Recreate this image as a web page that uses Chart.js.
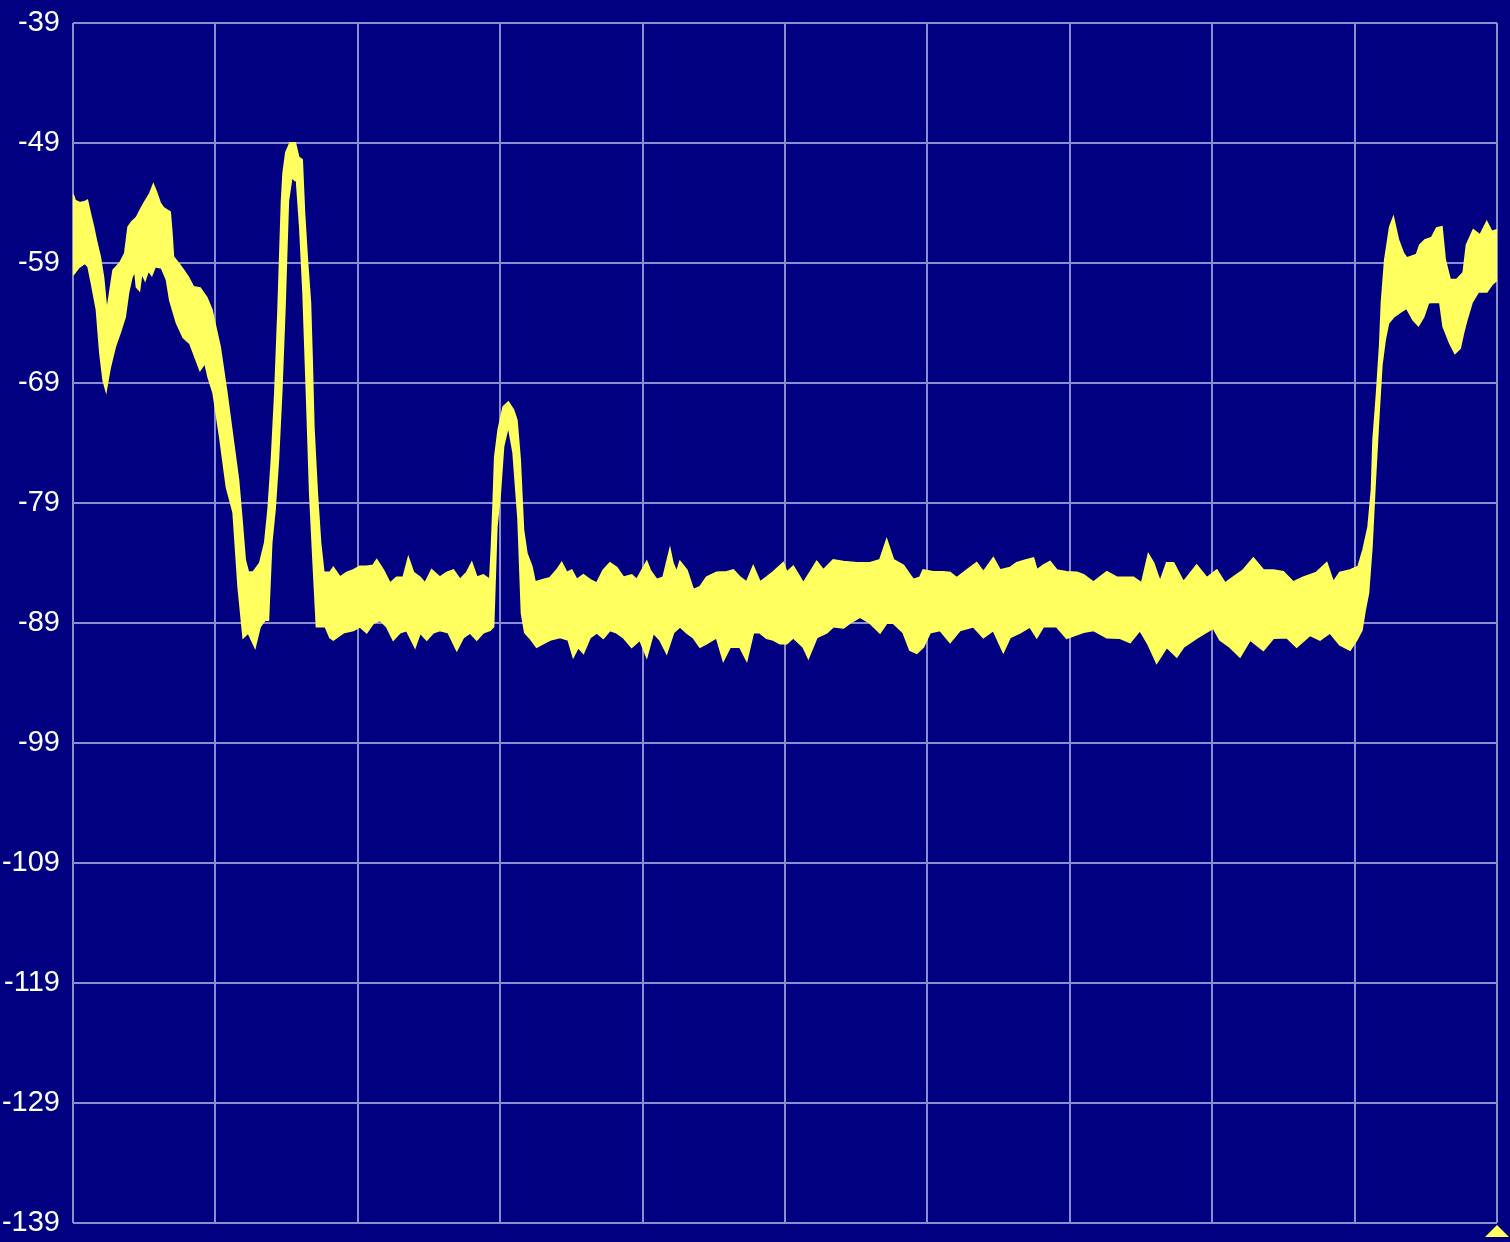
<!DOCTYPE html>
<html>
<head>
<meta charset="utf-8">
<script src="https://cdn.jsdelivr.net/npm/chart.js@4"></script>
<style>
  html, body { margin: 0; padding: 0; background: #000080; }
  #wrap { width: 1510px; height: 1242px; position: relative; }
</style>
</head>
<body>
<div id="wrap"><canvas id="c" width="1510" height="1242"></canvas></div>
<script>
// Level axis ticks (dBm)
const yTicks = [-139, -129, -119, -109, -99, -89, -79, -69, -59, -49, -39];
// Frequency axis grid (bins 0..1000, 10 divisions, unlabeled)
const xGrid = [0, 100, 200, 300, 400, 500, 600, 700, 800, 900, 1000];

// Upper envelope of the trace (max hold)
const upperX = [0,1.4,4.9,8.4,10.0,11.9,14.3,16.6,19.0,21.3,23.7,28.3,33.0,36.5,38.8,41.2,44.7,48.2,50.6,54.1,56.4,58.8,61.1,63.4,68.1,69.3,70.4,73.9,77.5,81.0,84.5,89.2,93.9,97.4,103.2,107.9,112.6,116.1,118.5,120.8,123.1,126.6,131.3,134.8,137.1,139.5,141.9,144.2,145.4,146.6,147.7,149.6,152.5,156.0,158.4,160.8,162.4,164.3,166.6,167.8,169.0,171.4,173.7,176.0,180.5,182.8,187.5,192.2,196.8,201.5,206.2,210.9,213.3,217.9,222.6,227.3,232.0,235.5,239.0,243.7,247.2,251.9,257.7,262.4,267.1,271.8,276.5,280.0,283.5,288.1,292.8,294.0,295.2,296.3,298.7,302.2,305.7,309.2,311.6,313.9,316.2,318.6,322.1,324.4,330.3,335.0,339.7,343.2,346.7,350.2,353.7,358.4,363.1,367.8,372.4,377.1,381.8,386.5,392.3,395.9,402.9,405.2,409.9,414.5,419.2,421.1,423.9,426.3,431.0,435.6,440.3,445.0,452.0,459.1,463.7,468.4,473.1,477.7,482.4,487.1,491.8,498.8,501.2,505.8,510.5,512.9,517.6,522.3,526.9,533.9,541.0,550.4,559.7,566.7,571.4,576.1,583.1,590.1,594.8,597.1,604.1,611.2,615.9,620.6,627.6,634.6,639.3,646.3,651.0,658.0,662.7,669.7,674.4,676.8,681.4,686.1,690.8,697.8,704.9,709.6,716.6,726.0,733.0,744.7,750.5,755.2,758.7,763.4,768.1,772.8,779.8,789.1,796.2,803.2,809.0,814.8,821.8,828.9,835.9,842.9,849.9,856.9,863.9,873.3,880.4,885.0,889.7,896.8,902.6,906.1,909.6,912.0,913.1,915.5,917.8,919.0,921.3,924.8,927.2,930.7,934.2,936.6,943.6,945.9,949.4,954.2,957.7,961.2,963.5,967.0,971.7,976.4,978.7,983.4,988.1,992.8,996.3,1000];
const upperY = [-53.3,-53.8,-54,-53.9,-53.8,-54.8,-56,-57.3,-58.5,-60.2,-63.2,-59.6,-59,-58.2,-56,-55.6,-55.2,-54.4,-53.9,-53.2,-52.5,-53.2,-54,-54.4,-54.75,-56.5,-58.5,-59,-59.6,-60.2,-61,-61.1,-61.9,-62.9,-66,-69.8,-74,-77.1,-80.4,-83.75,-84.8,-84.75,-84,-82.3,-79.6,-75.4,-69.8,-62.7,-58.2,-53.8,-51.5,-49.8,-49,-49,-50.2,-50.4,-54.8,-58.5,-62.3,-67.1,-72.7,-78.2,-82.3,-84.8,-84.8,-84.4,-85.2,-84.8,-84.6,-84.3,-84.3,-84.2,-83.75,-84.6,-85.7,-85.2,-85.2,-83.6,-84.8,-85.2,-85.7,-84.6,-85.2,-84.8,-84.6,-85.4,-84.8,-84,-85.2,-85,-85.4,-82.7,-79,-75.2,-72.9,-71,-70.6,-71.25,-72.1,-75.4,-81.25,-83.2,-84.3,-85.6,-85.4,-85.25,-84.6,-84,-84.8,-84.6,-85.4,-85,-85.4,-85.7,-84.6,-84,-84.4,-85.2,-85,-85.4,-83.9,-84.6,-85.4,-85.2,-82.9,-84,-84.8,-83.9,-84.6,-86.25,-86,-85.2,-84.8,-84.75,-84.6,-85.2,-85.6,-84.3,-85.6,-85.2,-84.75,-84,-84.8,-84.3,-85.2,-85.7,-84.8,-83.9,-84.6,-83.75,-83.9,-84,-84,-83.75,-82.1,-83.75,-84.2,-85.4,-85.2,-84.6,-84.75,-84.75,-84.8,-85.25,-84.6,-84,-84.75,-83.6,-84.6,-84.4,-84,-83.75,-83.6,-84.6,-84.2,-83.9,-84.6,-84.75,-84.8,-85,-85.6,-84.75,-85.2,-85.2,-85.7,-83.3,-84,-85.6,-84,-84,-85.6,-84.2,-85.25,-84.6,-85.7,-85.2,-84.6,-83.6,-84.6,-84.6,-84.75,-85.6,-85.2,-84.8,-84,-85.6,-84.8,-84.6,-84.3,-82.9,-81,-77.9,-73.75,-70,-65.8,-62.3,-58.75,-56,-55.25,-57.1,-58.2,-58.6,-58.3,-57.5,-57.1,-56.9,-56.1,-56,-58.75,-60.4,-60.4,-59.8,-57.5,-56.25,-56.7,-55.6,-56.4,-56.25];

// Lower envelope of the trace (min hold)
const lowerX = [0,3.7,8.4,10.7,13.1,16.6,19.0,21.3,23.2,26.0,29.5,33.0,36.5,38.8,41.2,43.5,44.7,46.6,48.2,50.6,52.9,55.3,57.6,62.3,65.8,68.1,72.8,77.5,82.2,85.7,89.2,92.7,95.0,98.5,103.2,107.9,112.6,116.1,119.6,123.1,127.8,131.3,134.8,137.1,139.4,141.7,144.1,146.4,148.7,149.9,151.1,153.6,155.9,157.1,159.4,161.7,164.1,166.4,168.7,171.1,177.3,180.5,182.8,189.8,196.8,201.5,206.2,210.9,215.6,220.3,224.9,229.6,234.3,240.2,243.7,248.4,253.0,257.7,263.6,269.5,274.1,278.8,283.5,288.1,292.8,295.2,297.5,299.9,302.2,305.7,309.2,312.7,315.1,317.4,320.9,325.6,330.3,335.0,342.0,347.8,351.3,354.8,358.4,363.1,367.8,372.4,377.1,381.8,386.5,392.3,398.2,402.9,407.5,412.2,416.9,421.6,426.3,431.0,435.6,440.3,445.0,452.0,456.7,461.4,468.4,473.1,477.7,482.4,487.1,491.8,496.5,501.2,505.8,512.9,516.4,522.3,529.3,533.9,541.0,545.6,552.7,559.7,566.7,571.4,576.1,583.1,587.8,592.5,597.1,601.8,608.9,615.9,622.9,632.3,639.3,646.3,653.3,658.0,665.0,672.1,676.8,681.4,690.8,697.8,709.6,716.6,726.0,735.3,742.3,749.3,755.2,761.0,768.1,775.1,779.8,789.1,800.8,805.5,812.5,819.5,826.6,835.9,842.9,852.3,859.3,868.7,875.7,882.7,889.7,896.8,901.5,905.0,907.3,909.6,912.0,914.3,916.7,919.0,921.3,923.7,927.2,931.9,936.6,941.2,944.8,948.3,951.8,957.7,960.0,962.3,967.0,970.5,974.0,976.4,978.7,982.3,986.9,992.8,996.3,1000];
const lowerY = [-60,-59.4,-59,-59.3,-60.7,-62.9,-66.5,-68.75,-69.6,-67.7,-66,-64.8,-63.5,-61.5,-60.2,-59.6,-61,-61.25,-59.8,-60.4,-59.6,-60,-59.3,-59.4,-60.4,-62.1,-64,-65.2,-65.7,-66.8,-67.9,-67.3,-68.5,-69.8,-73.5,-77.7,-79.8,-86,-90.2,-89.8,-91,-89.3,-88.75,-88.75,-82.3,-79.6,-75.4,-69.8,-62.7,-58.2,-53.8,-51.8,-52.1,-52.1,-56,-61.5,-69.8,-78.2,-83.75,-89.3,-89.3,-90.2,-90.4,-89.8,-89.6,-89.3,-89.8,-89,-88.75,-89.3,-90.4,-89.8,-89.6,-91,-89.8,-90.4,-89.8,-89.6,-89.8,-91.25,-90.2,-89.8,-90.4,-89.8,-89.6,-89.3,-81,-78.2,-74.3,-72.5,-74.8,-80.4,-88.2,-89.8,-90.25,-91,-90.7,-90.4,-90.2,-90.4,-91.8,-91,-91.5,-90.2,-89.8,-90.25,-89.6,-89.8,-90.2,-91,-90.4,-91.8,-89.8,-90.4,-91.5,-89.8,-89.3,-89.8,-90.2,-91,-90.7,-90.2,-92.1,-91,-91,-92.1,-89.8,-89.8,-90.25,-90.4,-90.7,-90.7,-90.2,-91,-91.9,-90.2,-89.8,-89.3,-89.4,-89,-88.5,-89,-89.8,-89,-89,-89.8,-91.25,-91.5,-91,-89.8,-89.6,-90.6,-89.6,-89.3,-90.2,-89.6,-91.4,-90.2,-89.8,-89.3,-90.2,-89.3,-89.3,-90.25,-89.75,-89.6,-90.2,-90.25,-90.6,-89.6,-90.8,-92.3,-91,-91.8,-91,-90.25,-89.4,-90.4,-91,-91.8,-90.4,-91.25,-90.25,-90.2,-91,-90,-90.4,-89.8,-90.8,-91.25,-90.4,-89.6,-87.9,-86.5,-82.7,-77.3,-72.1,-67.5,-65.4,-64,-63.5,-63.1,-62.75,-63.75,-64.2,-63.5,-62.3,-62.25,-62.3,-64.3,-65.7,-66.5,-66.1,-64.8,-63.75,-62.3,-61.4,-61.4,-60.8,-60.4];

const YELLOW = '#ffff60';
const GRID = '#8c8cd0';

function pts(xs, ys) { return xs.map((x, i) => ({ x: x, y: ys[i] })); }

const markerPlugin = {
  id: 'marker',
  afterDraw(chart) {
    const ctx = chart.ctx;
    const xs = chart.scales.x;
    const px = xs.getPixelForValue(xGrid[xGrid.length - 1]);
    const py = chart.chartArea.bottom + 2;
    ctx.save();
    ctx.fillStyle = YELLOW;
    ctx.beginPath();
    ctx.moveTo(px, py);
    ctx.lineTo(px + 12, py + 12);
    ctx.lineTo(px - 12, py + 12);
    ctx.closePath();
    ctx.fill();
    ctx.restore();
  }
};

new Chart(document.getElementById('c'), {
  type: 'line',
  data: {
    datasets: [
      { label: 'max', data: pts(upperX, upperY), borderColor: YELLOW, borderWidth: 2,
        pointRadius: 0, tension: 0, fill: false },
      { label: 'min', data: pts(lowerX, lowerY), borderColor: YELLOW, borderWidth: 2,
        pointRadius: 0, tension: 0, fill: '-1', backgroundColor: YELLOW }
    ]
  },
  options: {
    responsive: false,
    animation: false,
    events: [],
    layout: { padding: { top: 23, right: 13, bottom: 19, left: 0 } },
    plugins: { legend: { display: false }, tooltip: { enabled: false } },
    scales: {
      x: {
        type: 'linear', min: 0, max: 1000,
        afterBuildTicks: s => { s.ticks = xGrid.map(v => ({ value: v })); },
        afterFit: s => { s.height = 0; s.paddingLeft = 0; s.paddingRight = 0; },
        ticks: { display: false },
        grid: { color: GRID, lineWidth: 2, drawTicks: false },
        border: { display: false }
      },
      y: {
        type: 'linear', min: -139, max: -39,
        afterBuildTicks: s => { s.ticks = yTicks.map(v => ({ value: v })); },
        afterFit: s => { s.width = 73; s.paddingTop = 0; s.paddingBottom = 0; },
        ticks: { color: '#ffffff', padding: 13, font: { family: 'Liberation Sans', size: 29 } },
        grid: { color: GRID, lineWidth: 2, drawTicks: false },
        border: { display: false }
      }
    }
  },
  plugins: [markerPlugin]
});
</script>
</body>
</html>
